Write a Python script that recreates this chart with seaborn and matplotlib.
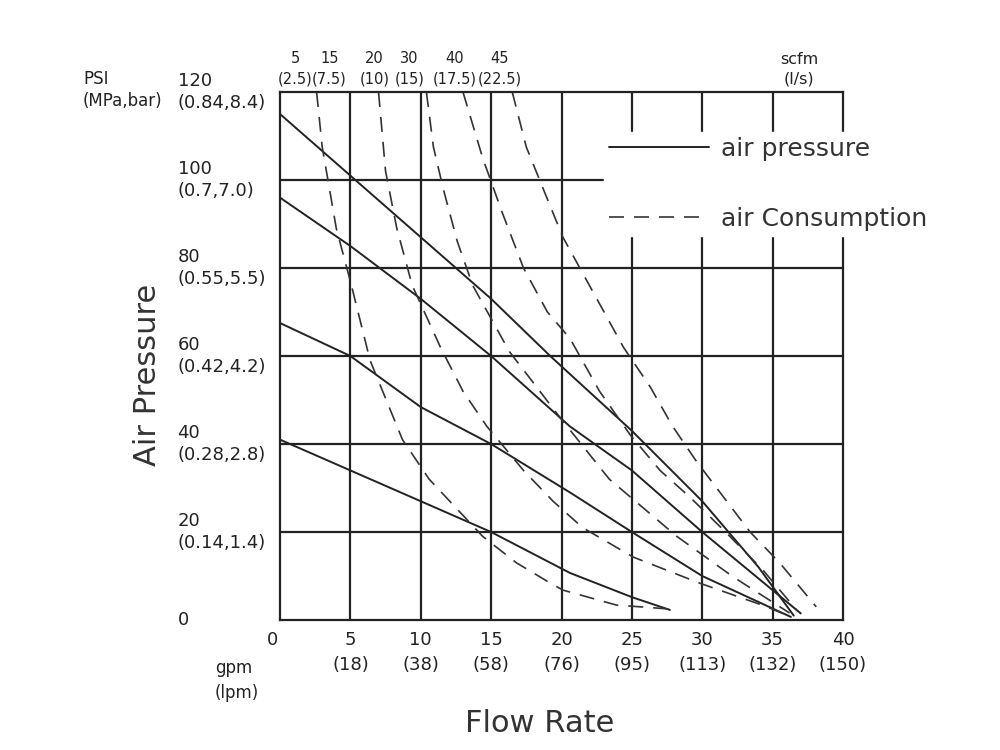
import numpy as np
import pandas as pd
import matplotlib
matplotlib.use("Agg")
import matplotlib.pyplot as plt
import matplotlib.transforms as mtransforms
import seaborn as sns

# air pressure curves (solid): gpm, psi
p1_x = [0, 5, 10, 15, 19.2, 25, 30, 34, 36.5]
p1_y = [115, 101, 87, 73, 60, 43, 27, 12, 1]
p2_x = [0, 5, 10, 15, 20.6, 25, 30, 37]
p2_y = [96, 85, 73, 60, 44, 34, 20, 1.5]
p3_x = [0, 5, 10, 15, 20.6, 25, 30, 36.3]
p3_y = [67.5, 60, 48.4, 40, 29, 20, 10, 0.7]
p4_x = [0, 5, 10, 15, 20.6, 25, 27.7]
p4_y = [41, 34, 27, 20, 10.7, 5.2, 2.3]

# air consumption curves (dashed)
c1_x = [2.6, 3.0, 4.0, 5, 6.4, 8.7, 10.6, 14.4, 16.8, 19.2, 20.1, 23.9, 27.7]
c1_y = [120, 107.5, 89, 77, 59, 41, 32, 19, 13, 8.4, 6.8, 3.4, 2.5]
c2_x = [7.0, 7.5, 8.3, 9.4, 11.4, 13.0, 14.7, 17.3, 19.4, 21.5, 25.1, 29.8, 34.6, 36]
c2_y = [120, 102, 89, 76, 62, 52, 44, 34, 27, 21, 14.3, 8.4, 3, 1.1]
c3_x = [10.4, 10.9, 11.6, 12.6, 13.7, 16.3, 18.7, 19.9, 23.4, 28.2, 32.2, 36.2]
c3_y = [120, 107.5, 98, 86, 76, 61, 51, 46, 32, 19, 9.8, 1.6]
c4_x = [13, 14.4, 15.8, 17.3, 19, 20.6, 22.7, 24.9, 27, 29.1, 31.5, 34.3, 36.7]
c4_y = [120, 105, 92.5, 80, 70, 64, 52, 42, 34, 28, 20.5, 11.4, 2.3]
c5_x = [16.5, 17.5, 18.7, 20.1, 24.4, 26.3, 27.9, 29.6, 31.5, 33.4, 35.5, 38.1]
c5_y = [120, 107.5, 98, 87, 62, 53, 44, 36, 28, 20, 13, 3]

psi_ticks = [0, 20, 40, 60, 80, 100, 120]
psi_sub = ["", "(0.14,1.4)", "(0.28,2.8)", "(0.42,4.2)", "(0.55,5.5)", "(0.7,7.0)", "(0.84,8.4)"]
gpm_ticks = [0, 5, 10, 15, 20, 25, 30, 35, 40]
lpm_sub = ["", "(18)", "(38)", "(58)", "(76)", "(95)", "(113)", "(132)", "(150)"]
scfm_labels = ["5", "15", "20", "30", "40", "45"]
ls_labels = ["(2.5)", "(7.5)", "(10)", "(15)", "(17.5)", "(22.5)"]
scfm_pos = [1.07, 3.5, 6.7, 9.2, 12.4, 15.6]

sns.set_style("white")
plt.rcParams['font.family'] = ['DejaVu Sans Condensed', 'Liberation Sans Narrow', 'DejaVu Sans']

fig = plt.figure(figsize=(10, 7.5), dpi=100)
ax = fig.add_axes([0.28, 0.1733, 0.563, 0.704])

for xs, ys in [(p1_x, p1_y), (p2_x, p2_y), (p3_x, p3_y), (p4_x, p4_y)]:
    sns.lineplot(x=xs, y=ys, color="#222222", lw=1.4, ax=ax, sort=False)
for xs, ys in [(c1_x, c1_y), (c2_x, c2_y), (c3_x, c3_y), (c4_x, c4_y), (c5_x, c5_y)]:
    sns.lineplot(x=xs, y=ys, color="#333333", lw=1.2, ax=ax, sort=False,
                 linestyle=(0, (9, 6)))

ax.set_xlim(0, 40)
ax.set_ylim(0, 120)
for v in gpm_ticks[1:-1]:
    ax.axvline(v, color="#222222", lw=1.6, zorder=0)
for v in psi_ticks[1:-1]:
    ax.axhline(v, color="#222222", lw=1.6, zorder=0)
for s in ax.spines.values():
    s.set_color("#222222")
    s.set_linewidth(1.6)
ax.set_xticks([])
ax.set_yticks([])

fs = 13
ty = mtransforms.blended_transform_factory(ax.transAxes, ax.transData)
for v, sub in zip(psi_ticks, psi_sub):
    ax.text(-0.182, v, f"{v}\n{sub}" if sub else f"{v}", transform=ty,
            ha="left", va="center", fontsize=fs, linespacing=1.3,
            color="#222222")
tx = mtransforms.blended_transform_factory(ax.transData, ax.transAxes)
for v, sub in zip(gpm_ticks, lpm_sub):
    if sub:
        ax.text(v, -0.02, f"{v}\n{sub}", transform=tx, ha="center", va="top",
                fontsize=fs, linespacing=1.5, color="#222222")
    else:
        ax.text(v - 0.5, -0.02, f"{v}", transform=tx, ha="center", va="top",
                fontsize=fs, color="#222222")
for v, a, b in zip(scfm_pos, scfm_labels, ls_labels):
    ax.text(v, 1.01, f"{a}\n{b}", transform=tx, ha="center", va="bottom",
            fontsize=10.5, linespacing=1.5, color="#222222")
ax.text(36.9, 1.01, "scfm\n(l/s)", transform=tx, ha="center", va="bottom",
        fontsize=11.5, linespacing=1.4, color="#222222")

fig.text(0.083, 0.88, "PSI\n(MPa,bar)", ha="left", va="center", fontsize=fs - 1,
         linespacing=1.3, color="#222222")
fig.text(0.215, 0.093, "gpm\n(lpm)", ha="left", va="center", fontsize=fs - 1,
         linespacing=1.5, color="#222222")
fig.text(0.148, 0.50, "Air Pressure", rotation=90, ha="center", va="center",
         fontsize=22, color="#333333")
fig.text(0.54, 0.035, "Flow Rate", ha="center", va="center", fontsize=22,
         color="#333333")

leg = ax.legend(handles=[
    plt.Line2D([], [], color="#222222", lw=1.4),
    plt.Line2D([], [], color="#333333", lw=1.2, linestyle=(0, (9, 6)))],
    labels=["air pressure", "air Consumption"], loc="upper left",
    bbox_to_anchor=(0.575, 0.925), frameon=True, framealpha=1, edgecolor="white",
    facecolor="white", fontsize=18, handlelength=4.0, labelspacing=1.85,
    borderpad=0.2, handletextpad=0.5, borderaxespad=0)
for t in leg.get_texts():
    t.set_color("#333333")

fig.savefig("out.png", dpi=100, facecolor="white")
